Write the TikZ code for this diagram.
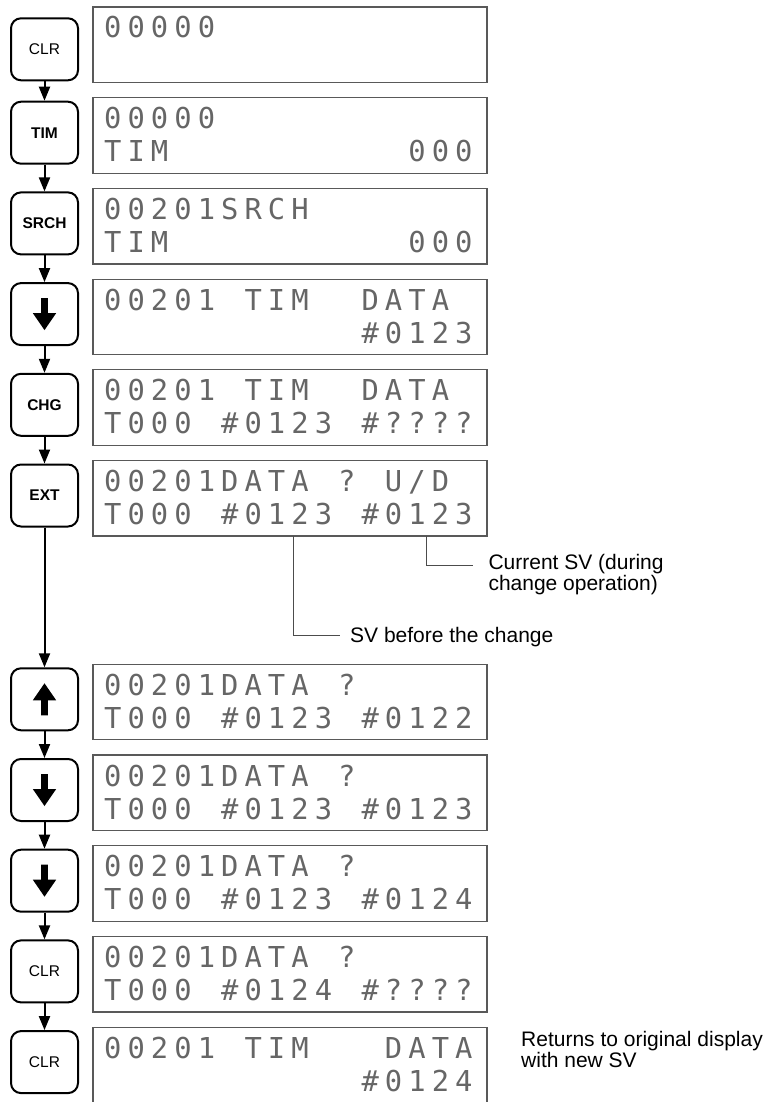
\documentclass[tikz,border=0pt]{standalone}
\usepackage{fontspec}
\setmainfont{Liberation Sans}
\newfontfamily\lcdfont{DejaVu Sans Mono}
\usetikzlibrary{arrows.meta}
\newcommand\lcdtext[1]{\lcdloop#1\relax}
\def\lcdloop#1{\ifx#1\relax\else\makebox[23.4pt][l]{#1}\expandafter\lcdloop\fi}
\begin{document}
\begin{tikzpicture}[x=1pt,y=-1pt,
  key/.style={draw, line width=2pt, rounded corners=10pt, minimum width=67pt, minimum height=62pt, inner sep=0pt, font=\fontsize{15.5}{15.5}\selectfont},
  boldkey/.style={key, font=\fontsize{15.5}{15.5}\selectfont\bfseries},
  disp/.style={draw=black!65, line width=1.2pt, minimum width=394pt, minimum height=75.5pt, inner sep=0pt},
  lcd/.style={anchor=base west, inner sep=0pt, text=black!60, font=\lcdfont\fontsize{28.8}{28.8}\selectfont},
  flow/.style={line width=2pt, -{Triangle[length=14pt,width=11pt]}},
  lead/.style={draw=black!70, line width=1pt},
  note/.style={anchor=base west, inner sep=0pt, align=left, font=\fontsize{21}{21}\selectfont},
  dnarrow/.pic={\fill (-3.3,-16) -- (3.3,-16) -- (3.3,-1) -- (11.7,-1) -- (0,16) -- (-11.7,-1) -- (-3.3,-1) -- cycle;},
  uparrow/.pic={\fill (-3.3,16) -- (3.3,16) -- (3.3,1) -- (11.7,1) -- (0,-16) -- (-11.7,1) -- (-3.3,1) -- cycle;}
]
\useasboundingbox (0,0) rectangle (766,1102);

% displays
\node[disp] (d1) at (290,44.75) {};
\node[disp] (d2) at (290,135.45) {};
\node[disp] (d3) at (290,226.15) {};
\node[disp] (d4) at (290,316.85) {};
\node[disp] (d5) at (290,407.55) {};
\node[disp] (d6) at (290,498.25) {};
\node[disp] (d7) at (290,702.05) {};
\node[disp] (d8) at (290,792.75) {};
\node[disp] (d9) at (290,883.45) {};
\node[disp] (d10) at (290,974.15) {};
\node[disp] (d11) at (290,1064.85) {};

% display texts
\node[lcd] (t1a) at (104,38) {\lcdtext{00000}};
\node[lcd] (t2a) at (104,128.7) {\lcdtext{00000}};
\node[lcd] (t2b) at (104,161.7) {\lcdtext{TIM~~~~~~~~~~000}};
\node[lcd] (t3a) at (104,219.4) {\lcdtext{00201SRCH}};
\node[lcd] (t3b) at (104,252.4) {\lcdtext{TIM~~~~~~~~~~000}};
\node[lcd] (t4a) at (104,310.1) {\lcdtext{00201~TIM~~DATA}};
\node[lcd] (t4b) at (104,343.1) {\lcdtext{~~~~~~~~~~~\#0123}};
\node[lcd] (t5a) at (104,400.8) {\lcdtext{00201~TIM~~DATA}};
\node[lcd] (t5b) at (104,433.8) {\lcdtext{T000~\#0123~\#????}};
\node[lcd] (t6a) at (104,491.5) {\lcdtext{00201DATA~?~U/D}};
\node[lcd] (t6b) at (104,524.5) {\lcdtext{T000~\#0123~\#0123}};
\node[lcd] (t7a) at (104,695.3) {\lcdtext{00201DATA~?}};
\node[lcd] (t7b) at (104,728.3) {\lcdtext{T000~\#0123~\#0122}};
\node[lcd] (t8a) at (104,786) {\lcdtext{00201DATA~?}};
\node[lcd] (t8b) at (104,819) {\lcdtext{T000~\#0123~\#0123}};
\node[lcd] (t9a) at (104,876.7) {\lcdtext{00201DATA~?}};
\node[lcd] (t9b) at (104,909.7) {\lcdtext{T000~\#0123~\#0124}};
\node[lcd] (t10a) at (104,967.4) {\lcdtext{00201DATA~?}};
\node[lcd] (t10b) at (104,1000.4) {\lcdtext{T000~\#0124~\#????}};
\node[lcd] (t11a) at (104,1058.1) {\lcdtext{00201~TIM~~~DATA}};
\node[lcd] (t11b) at (104,1091.1) {\lcdtext{~~~~~~~~~~~\#0124}};

% keys
\node[key] (k1) at (44.5,49.3) {CLR};
\node[boldkey] (k2) at (44.5,132.7) {TIM};
\node[boldkey] (k3) at (44.5,223.4) {SRCH};
\node[key] (k4) at (44.5,314.1) {};
\node[boldkey] (k5) at (44.5,404.8) {CHG};
\node[boldkey] (k6) at (44.5,495.5) {EXT};
\node[key] (k7) at (44.5,699.3) {};
\node[key] (k8) at (44.5,790) {};
\node[key] (k9) at (44.5,880.7) {};
\node[key] (k10) at (44.5,971.4) {CLR};
\node[key] (k11) at (44.5,1062.1) {CLR};

\pic at (k4.center) {dnarrow};
\pic at (k7.center) {uparrow};
\pic at (k8.center) {dnarrow};
\pic at (k9.center) {dnarrow};

% flow arrows
\draw[flow] (k1) -- (k2);
\draw[flow] (k2) -- (k3);
\draw[flow] (k3) -- (k4);
\draw[flow] (k4) -- (k5);
\draw[flow] (k5) -- (k6);
\draw[flow] (k6) -- (k7);
\draw[flow] (k7) -- (k8);
\draw[flow] (k8) -- (k9);
\draw[flow] (k9) -- (k10);
\draw[flow] (k10) -- (k11);

% callouts
\coordinate (s1) at (426.7,536);
\coordinate (e1) at (472.7,565);
\coordinate (s2) at (293.3,536);
\coordinate (e2) at (340,635);
\draw[lead] (s1) |- (e1);
\draw[lead] (s2) |- (e2);
\node[note] (c1) at (488.3,590) {Current SV (during\\change operation)};
\node[note] (c2) at (350,642.3) {SV before the change};
\node[note] (c3) at (521,1067.7) {Returns to original display\\with new SV};
\end{tikzpicture}
\end{document}
